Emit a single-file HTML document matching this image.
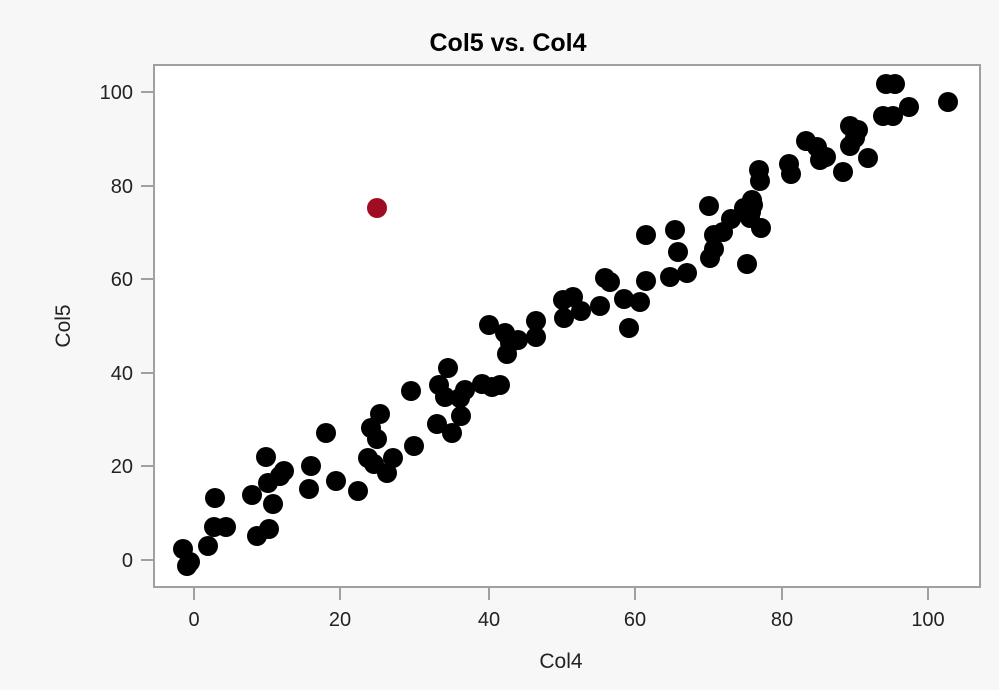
<!DOCTYPE html>
<html><head><style>
body{margin:0;background:#f7f7f7;}
svg{display:block;font-family:"Liberation Sans",sans-serif;}
</style></head><body>
<svg width="999" height="690" viewBox="0 0 999 690">
<rect width="999" height="690" fill="#f7f7f7"/>
<text x="508" y="51" font-size="25" font-weight="bold" text-anchor="middle" fill="#000">Col5 vs. Col4</text>
<rect x="154" y="65" width="826" height="522" fill="#fff" stroke="#a0a0a0" stroke-width="2"/>
<g stroke="#a0a0a0" stroke-width="2">
<line x1="141" x2="153" y1="560" y2="560"/><line x1="141" x2="153" y1="466" y2="466"/><line x1="141" x2="153" y1="373" y2="373"/><line x1="141" x2="153" y1="279" y2="279"/><line x1="141" x2="153" y1="186" y2="186"/><line x1="141" x2="153" y1="92" y2="92"/>
<line x1="194" x2="194" y1="588" y2="600"/><line x1="340" x2="340" y1="588" y2="600"/><line x1="489" x2="489" y1="588" y2="600"/><line x1="635" x2="635" y1="588" y2="600"/><line x1="782" x2="782" y1="588" y2="600"/><line x1="928" x2="928" y1="588" y2="600"/>
</g>
<g font-size="20" fill="#222" text-anchor="end">
<text x="133" y="567">0</text><text x="133" y="473">20</text><text x="133" y="380">40</text><text x="133" y="286">60</text><text x="133" y="193">80</text><text x="133" y="99">100</text>
</g>
<g font-size="20" fill="#222" text-anchor="middle">
<text x="194" y="626">0</text><text x="340" y="626">20</text><text x="489" y="626">40</text><text x="635" y="626">60</text><text x="782" y="626">80</text><text x="928" y="626">100</text>
<text x="561" y="668" font-size="21">Col4</text>
<text transform="translate(70,326) rotate(-90)" font-size="21">Col5</text>
</g>
<g fill="#000">
<circle cx="183" cy="549" r="10"/><circle cx="187" cy="566" r="10"/><circle cx="190" cy="562" r="10"/><circle cx="208" cy="546" r="10"/><circle cx="215" cy="498" r="10"/><circle cx="214" cy="527" r="10"/><circle cx="226" cy="527" r="10"/><circle cx="252" cy="495" r="10"/><circle cx="257" cy="536" r="10"/><circle cx="266" cy="457" r="10"/><circle cx="269" cy="529" r="10"/><circle cx="268" cy="483" r="10"/><circle cx="273" cy="504" r="10"/><circle cx="280" cy="476" r="10"/><circle cx="284" cy="471" r="10"/><circle cx="311" cy="466" r="10"/><circle cx="309" cy="489" r="10"/><circle cx="326" cy="433" r="10"/><circle cx="336" cy="481" r="10"/><circle cx="358" cy="491" r="10"/><circle cx="368" cy="458" r="10"/><circle cx="371" cy="428" r="10"/><circle cx="374" cy="464" r="10"/><circle cx="377" cy="439" r="10"/><circle cx="380" cy="414" r="10"/><circle cx="387" cy="473" r="10"/><circle cx="393" cy="458" r="10"/><circle cx="411" cy="391" r="10"/><circle cx="414" cy="446" r="10"/><circle cx="437" cy="424" r="10"/><circle cx="439" cy="385" r="10"/><circle cx="448" cy="368" r="10"/><circle cx="445" cy="397" r="10"/><circle cx="452" cy="433" r="10"/><circle cx="460" cy="398" r="10"/><circle cx="461" cy="416" r="10"/><circle cx="465" cy="390" r="10"/><circle cx="482" cy="384" r="10"/><circle cx="489" cy="325" r="10"/><circle cx="492" cy="387" r="10"/><circle cx="500" cy="385" r="10"/><circle cx="505" cy="333" r="10"/><circle cx="507" cy="354" r="10"/><circle cx="510" cy="343" r="10"/><circle cx="518" cy="340" r="10"/><circle cx="536" cy="337" r="10"/><circle cx="536" cy="321" r="10"/><circle cx="564" cy="318" r="10"/><circle cx="563" cy="300" r="10"/><circle cx="573" cy="297" r="10"/><circle cx="581" cy="311" r="10"/><circle cx="600" cy="306" r="10"/><circle cx="605" cy="278" r="10"/><circle cx="610" cy="282" r="10"/><circle cx="624" cy="299" r="10"/><circle cx="629" cy="328" r="10"/><circle cx="640" cy="302" r="10"/><circle cx="646" cy="281" r="10"/><circle cx="646" cy="235" r="10"/><circle cx="670" cy="277" r="10"/><circle cx="675" cy="230" r="10"/><circle cx="678" cy="252" r="10"/><circle cx="687" cy="273" r="10"/><circle cx="709" cy="206" r="10"/><circle cx="710" cy="258" r="10"/><circle cx="714" cy="249" r="10"/><circle cx="714" cy="235" r="10"/><circle cx="723" cy="232" r="10"/><circle cx="731" cy="219" r="10"/><circle cx="744" cy="208" r="10"/><circle cx="747" cy="264" r="10"/><circle cx="751" cy="212" r="10"/><circle cx="752" cy="200" r="10"/><circle cx="753" cy="205" r="10"/><circle cx="750" cy="218" r="10"/><circle cx="761" cy="228" r="10"/><circle cx="759" cy="170" r="10"/><circle cx="760" cy="181" r="10"/><circle cx="789" cy="164" r="10"/><circle cx="791" cy="174" r="10"/><circle cx="806" cy="141" r="10"/><circle cx="817" cy="147" r="10"/><circle cx="820" cy="160" r="10"/><circle cx="826" cy="157" r="10"/><circle cx="843" cy="172" r="10"/><circle cx="850" cy="126" r="10"/><circle cx="850" cy="146" r="10"/><circle cx="855" cy="138" r="10"/><circle cx="858" cy="130" r="10"/><circle cx="868" cy="158" r="10"/><circle cx="883" cy="116" r="10"/><circle cx="886" cy="84" r="10"/><circle cx="893" cy="116" r="10"/><circle cx="895" cy="84" r="10"/><circle cx="909" cy="107" r="10"/><circle cx="948" cy="102" r="10"/>
</g>
<circle cx="377" cy="208" r="10" fill="#a00c22"/>
</svg>
</body></html>
